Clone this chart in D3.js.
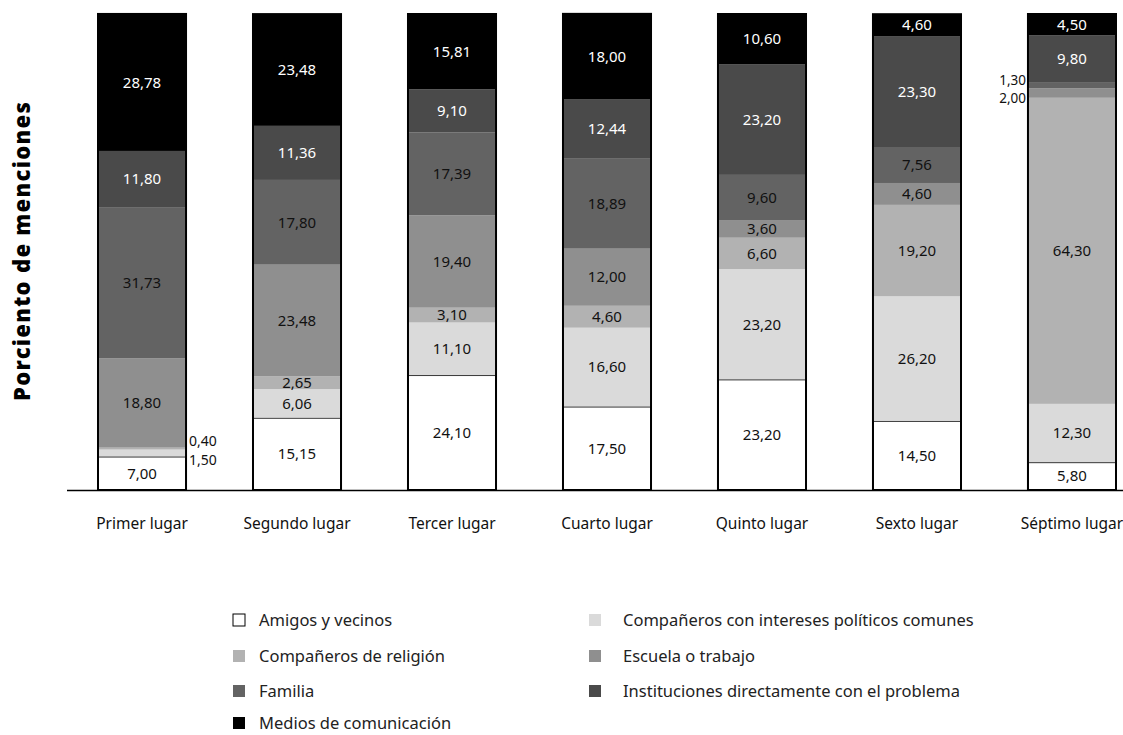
<!DOCTYPE html>
<html>
<head>
<meta charset="utf-8">
<script src="https://cdn.jsdelivr.net/npm/d3@7/dist/d3.min.js"></script>
<style>
  html, body { margin: 0; padding: 0; background: #fff; }
  svg { display: block; font-family: "Noto Sans", "Open Sans", sans-serif; }
</style>
</head>
<body>
<svg id="chart" width="1123" height="735"></svg>
<script>
// ---- Data ----
const categories = ["Primer lugar", "Segundo lugar", "Tercer lugar", "Cuarto lugar", "Quinto lugar", "Sexto lugar", "Séptimo lugar"];
const seriesNames = [
  "Amigos y vecinos",
  "Compañeros con intereses políticos comunes",
  "Compañeros de religión",
  "Escuela o trabajo",
  "Familia",
  "Instituciones directamente con el problema",
  "Medios de comunicación"
];
const amigos       = [7.00, 15.15, 24.10, 17.50, 23.20, 14.50, 5.80];
const politicos    = [1.50, 6.06, 11.10, 16.60, 23.20, 26.20, 12.30];
const religion     = [0.40, 2.65, 3.10, 4.60, 6.60, 19.20, 64.30];
const escuela      = [18.80, 23.48, 19.40, 12.00, 3.60, 4.60, 2.00];
const familia      = [31.73, 17.80, 17.39, 18.89, 9.60, 7.56, 1.30];
const instituciones= [11.80, 11.36, 9.10, 12.44, 23.20, 23.30, 9.80];
const medios       = [28.78, 23.48, 15.81, 18.00, 10.60, 4.60, 4.50];
const seriesValues = [amigos, politicos, religion, escuela, familia, instituciones, medios];

// ---- Style ----
const colors = ["#ffffff", "#dadada", "#b2b2b2", "#8f8f8f", "#636363", "#4a4a4a", "#000000"];
const textColors = ["#111", "#111", "#111", "#111", "#111", "#fff", "#fff"];
const fmt = v => v.toFixed(2).replace(".", ",");

const svg = d3.select("#chart");

const x = d3.scaleBand().domain(categories).range([98, 1116]).paddingInner(0.432).paddingOuter(0);
const y = d3.scaleLinear().domain([0, 100]).range([490, 14]);

// rows for stacking
const rows = categories.map((c, i) => {
  const r = { cat: c };
  seriesNames.forEach((s, j) => r[s] = seriesValues[j][i]);
  return r;
});
const stack = d3.stack().keys(seriesNames)(rows);

const g = svg.append("g");

stack.forEach((layer, j) => {
  g.selectAll(null).data(layer).enter().append("rect")
    .attr("x", d => x(d.data.cat))
    .attr("width", x.bandwidth())
    .attr("y", d => y(d[1]))
    .attr("height", d => y(d[0]) - y(d[1]))
    .attr("fill", colors[j])
    .attr("stroke", j === 0 ? "#000" : "none")
    .attr("stroke-width", 1.5);
});

// bar outlines
g.selectAll(null).data(rows).enter().append("rect")
  .attr("x", d => x(d.cat))
  .attr("width", x.bandwidth())
  .attr("y", d => y(d3.sum(seriesNames, s => d[s])))
  .attr("height", d => y(0) - y(d3.sum(seriesNames, s => d[s])))
  .attr("fill", "none")
  .attr("stroke", "#000")
  .attr("stroke-width", 2);

// value labels
stack.forEach((layer, j) => {
  layer.forEach((d, i) => {
    const v = d[1] - d[0];
    const cy = (y(d[0]) + y(d[1])) / 2;
    let tx = x(d.data.cat) + x.bandwidth() / 2, ty = cy, anchor = "middle", fill = textColors[j], fs = "15px";
    if (i === 0 && (j === 1 || j === 2)) {
      tx = x(d.data.cat) + x.bandwidth() + 3; anchor = "start"; fill = "#111"; fs = "14px";
      ty = j === 2 ? cy - 7 : cy + 7;
    } else if (i === 6 && (j === 3 || j === 4)) {
      tx = x(d.data.cat) - 2; anchor = "end"; fill = "#111"; fs = "13.5px";
      ty = j === 4 ? cy - 5 : cy + 5;
    }
    g.append("text")
      .attr("x", tx).attr("y", ty)
      .attr("dy", "0.35em")
      .attr("text-anchor", anchor)
      .attr("fill", fill)
      .style("font-size", fs)
      .text(fmt(v));
  });
});

// baseline
svg.append("line").attr("x1", 67).attr("x2", 1123).attr("y1", y(0) + 0.5).attr("y2", y(0) + 0.5)
  .attr("stroke", "#000").attr("stroke-width", 1.5);

// x axis labels
const xAxis = d3.axisBottom(x).tickSize(0).tickPadding(16);
const ax = svg.append("g").attr("transform", `translate(0,${y(0) + 12})`).call(xAxis);
ax.select(".domain").remove();
ax.selectAll("text").style("font-size", "15.5px").style("font-family", "'Noto Sans', sans-serif").attr("fill", "#111");

// y axis title
svg.append("text")
  .attr("transform", `translate(30,251) rotate(-90)`)
  .attr("text-anchor", "middle")
  .style("font-size", "22px").style("font-weight", 900)
  .style("letter-spacing", "1.3px")
  .attr("fill", "#000")
  .text("Porciento de menciones");

// legend
const legendPos = [
  [233, 620], [233, 656], [233, 691], [233, 723],
  [589, 620], [589, 656], [589, 691]
];
const legendOrder = [0, 2, 4, 6, 1, 3, 5];
legendOrder.forEach((j, k) => {
  const [lx, ly] = legendPos[k];
  svg.append("rect").attr("x", lx).attr("y", ly - 6).attr("width", 12).attr("height", 12)
    .attr("fill", colors[j]).attr("stroke", j === 0 ? "#000" : "none").attr("stroke-width", 1);
  svg.append("text").attr("x", k < 4 ? lx + 26 : lx + 34).attr("y", ly).attr("dy", "0.35em")
    .style("font-size", "16.5px").attr("fill", "#222").text(seriesNames[j]);
});
</script>
</body>
</html>
